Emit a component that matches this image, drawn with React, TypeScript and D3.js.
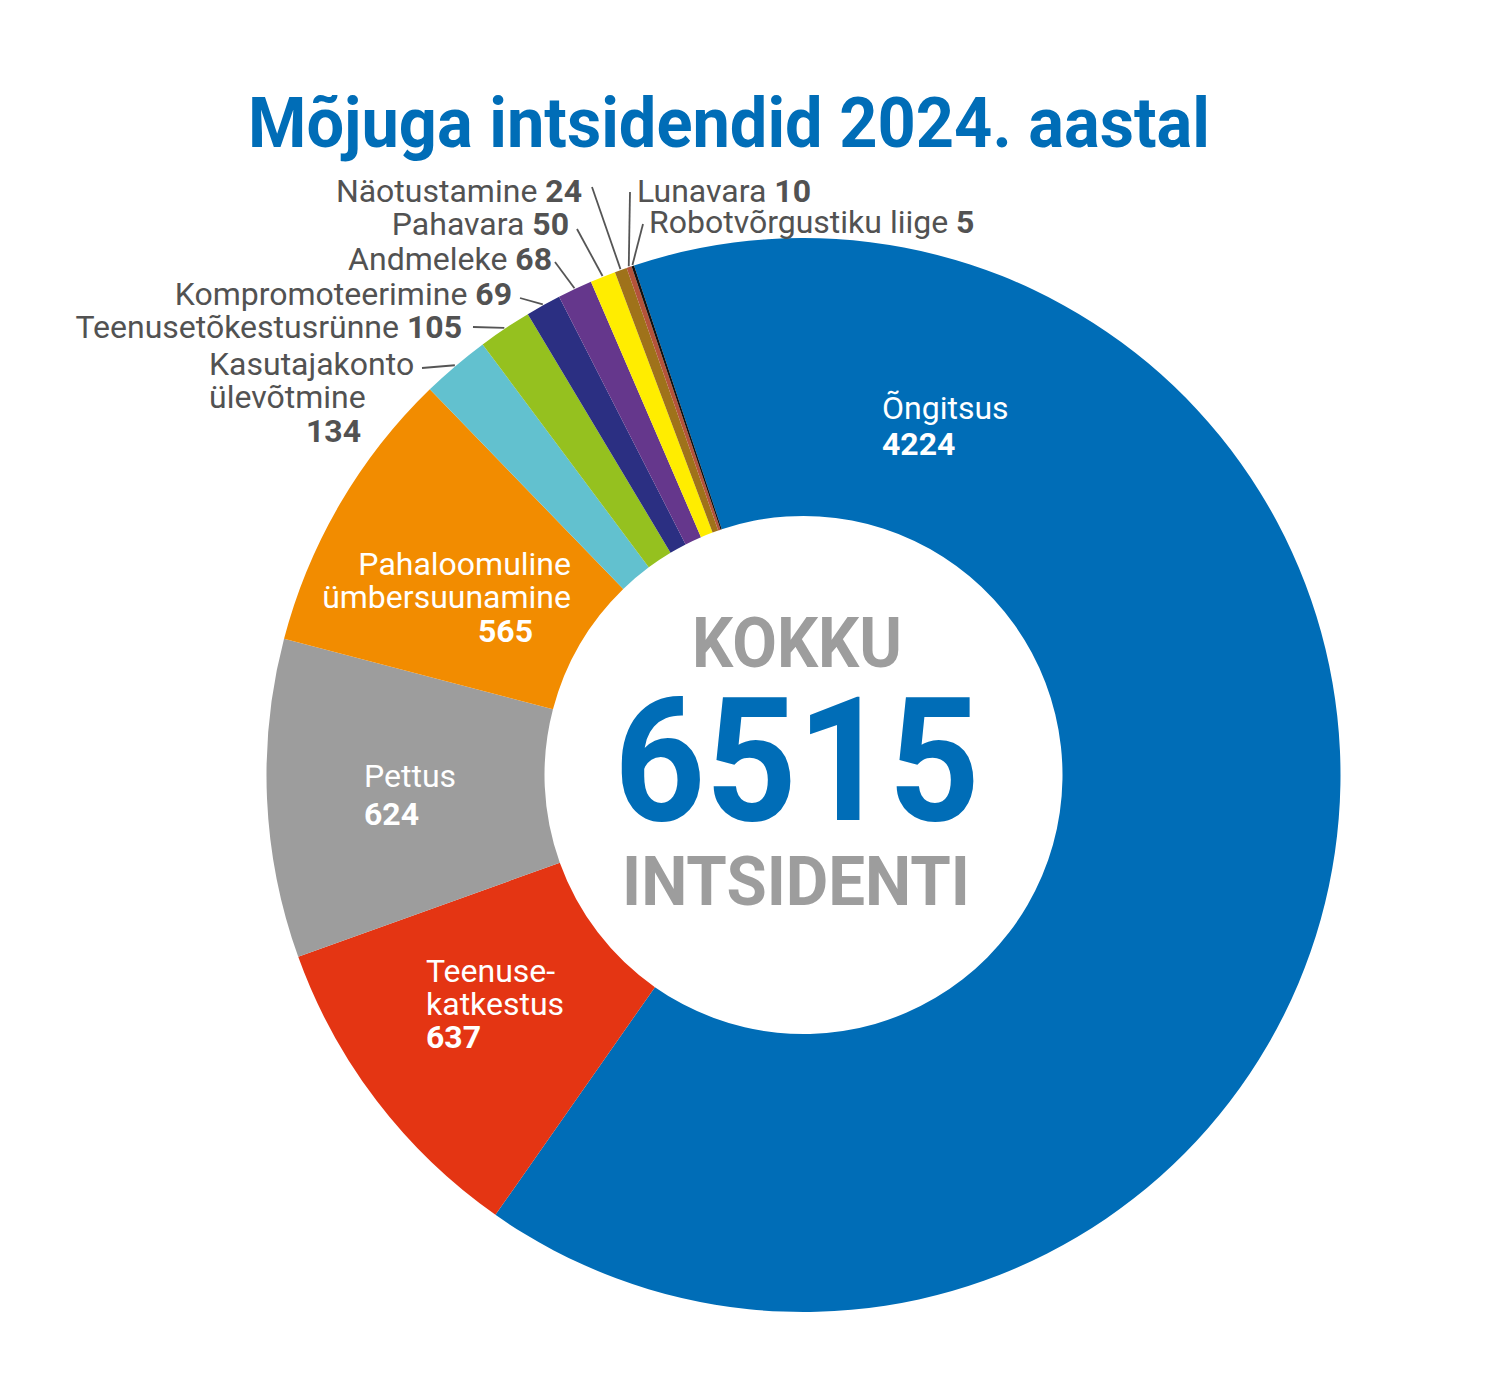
import * as d3 from "d3";

// Incident categories, clockwise from the top of the ring
const CATEGORIES = [
    "Õngitsus",
    "Teenusekatkestus",
    "Pettus",
    "Pahaloomuline ümbersuunamine",
    "Kasutajakonto ülevõtmine",
    "Teenusetõkestusrünne",
    "Kompromoteerimine",
    "Andmeleke",
    "Pahavara",
    "Näotustamine",
    "Lunavara",
    "Robotvõrgustiku liige",
];
const VALUES = [4224, 637, 624, 565, 134, 105, 69, 68, 50, 24, 10, 5];
const COLORS = [
    "#006db7", "#e43513", "#9d9d9d", "#f28c00", "#62c1cf", "#95c11f",
    "#2b2f82", "#65378c", "#ffed00", "#9f721a", "#b4533a", "#111111",
];
// how the longer names wrap onto lines
const NAME_LINES: Record<string, string[]> = {
    Teenusekatkestus: ["Teenuse-", "katkestus"],
    "Pahaloomuline ümbersuunamine": ["Pahaloomuline", "ümbersuunamine"],
    "Kasutajakonto ülevõtmine": ["Kasutajakonto", "ülevõtmine"],
};

const TITLE = "Mõjuga intsidendid 2024. aastal";
const TOTAL_TOP = "KOKKU";
const TOTAL_BOTTOM = "INTSIDENTI";

const W = 1508;
const H = 1397;
const CX = 803.5;
const CY = 775;
const R_OUT = 537;
const R_IN = 259;
const START = (-18.4 * Math.PI) / 180;

const BLUE = "#006db7";
const GREY = "#9d9d9d";
const INK = "#525252";
const FONT = "Roboto, 'Noto Sans', sans-serif";
const FS = 32;

// label placement; inside labels are white, outside ones get a leader line
interface Place {
    x: number;
    y: number;
    anchor: "start" | "end";
    inside?: boolean;
    lineGap?: number;
    valueGap?: number;
    valueX?: number;
    valueAnchor?: "start" | "end";
    from?: [number, number];
}
const PLACES: Record<string, Place> = {
    Õngitsus: { x: 882, y: 419, anchor: "start", inside: true, valueGap: 36 },
    Teenusekatkestus: { x: 426, y: 982, anchor: "start", inside: true, lineGap: 33, valueGap: 33 },
    Pettus: { x: 364, y: 787, anchor: "start", inside: true, valueGap: 38 },
    "Pahaloomuline ümbersuunamine": { x: 571, y: 575, anchor: "end", inside: true, lineGap: 33, valueGap: 34, valueX: 533, valueAnchor: "end" },
    "Kasutajakonto ülevõtmine": { x: 209, y: 375, anchor: "start", lineGap: 33, valueGap: 34, valueX: 361, valueAnchor: "end", from: [422, 368] },
    Teenusetõkestusrünne: { x: 462, y: 338, anchor: "end", from: [473, 327] },
    Kompromoteerimine: { x: 512, y: 305, anchor: "end", from: [520, 298] },
    Andmeleke: { x: 552, y: 270, anchor: "end", from: [555, 262] },
    Pahavara: { x: 569, y: 235, anchor: "end", from: [577, 229] },
    Näotustamine: { x: 582, y: 202, anchor: "end", from: [592, 187] },
    Lunavara: { x: 637, y: 202, anchor: "start", from: [630, 192] },
    "Robotvõrgustiku liige": { x: 649, y: 233, anchor: "start", from: [643, 224] },
};

export default function App() {
    const rows = CATEGORIES.map((name, i) => ({ name, value: VALUES[i], color: COLORS[i] }));
    const total = d3.sum(VALUES);

    const pie = d3
        .pie<(typeof rows)[number]>()
        .sort(null)
        .value((d) => d.value)
        .startAngle(START)
        .endAngle(START + 2 * Math.PI);
    const arcs = pie(rows);

    const arc = d3.arc<d3.PieArcDatum<(typeof rows)[number]>>().innerRadius(R_IN).outerRadius(R_OUT);
    // zero-width arc on the outer rim: its centroid is where a leader line lands
    const rim = d3.arc<d3.PieArcDatum<(typeof rows)[number]>>().innerRadius(R_OUT + 1).outerRadius(R_OUT + 1);

    return (
        <svg
            width={W}
            height={H}
            viewBox={`0 0 ${W} ${H}`}
            style={{ position: "absolute", left: 0, top: 0, background: "#fff" }}
            fontFamily={FONT}
        >
            <text
                x={W / 2 - 25}
                y={147}
                textAnchor="middle"
                fontSize={70}
                fontWeight={700}
                fill={BLUE}
                textLength={962}
                lengthAdjust="spacingAndGlyphs"
            >
                {TITLE}
            </text>

            <g transform={`translate(${CX},${CY})`}>
                {arcs.map((a) => (
                    <path key={a.data.name} d={arc(a) ?? ""} fill={a.data.color} />
                ))}
            </g>

            {arcs.map((a) => {
                const p = PLACES[a.data.name];
                if (!p.from) return null;
                const [ex, ey] = rim.centroid(a);
                return (
                    <line
                        key={`l-${a.data.name}`}
                        x1={p.from[0]}
                        y1={p.from[1]}
                        x2={CX + ex}
                        y2={CY + ey}
                        stroke="#555"
                        strokeWidth={1.8}
                    />
                );
            })}

            {arcs.map((a) => {
                const p = PLACES[a.data.name];
                const fill = p.inside ? "#fff" : INK;
                const lines = NAME_LINES[a.data.name];
                if (!lines && !p.inside) {
                    // single-line outside label with the count inline
                    return (
                        <text key={a.data.name} x={p.x} y={p.y} textAnchor={p.anchor} fontSize={FS} fill={fill}>
                            {a.data.name + " "}
                            <tspan fontWeight={700}>{a.data.value}</tspan>
                        </text>
                    );
                }
                const nameLines = lines ?? [a.data.name];
                const gap = p.lineGap ?? 33;
                const vy = p.y + gap * (nameLines.length - 1) + (p.valueGap ?? 34);
                return (
                    <g key={a.data.name} fontSize={FS} fill={fill}>
                        {nameLines.map((t, j) => (
                            <text key={t} x={p.x} y={p.y + j * gap} textAnchor={p.anchor}>
                                {t}
                            </text>
                        ))}
                        <text x={p.valueX ?? p.x} y={vy} textAnchor={p.valueAnchor ?? p.anchor} fontWeight={700}>
                            {a.data.value}
                        </text>
                    </g>
                );
            })}

            <g textAnchor="middle" fontWeight={700}>
                <text x={797} y={667} fontSize={70} fill={GREY} textLength={210} lengthAdjust="spacingAndGlyphs">
                    {TOTAL_TOP}
                </text>
                <text x={797} y={820} fontSize={172} fill={BLUE} textLength={366} lengthAdjust="spacingAndGlyphs">
                    {total}
                </text>
                <text x={796} y={905} fontSize={68} fill={GREY} textLength={348} lengthAdjust="spacingAndGlyphs">
                    {TOTAL_BOTTOM}
                </text>
            </g>
        </svg>
    );
}
